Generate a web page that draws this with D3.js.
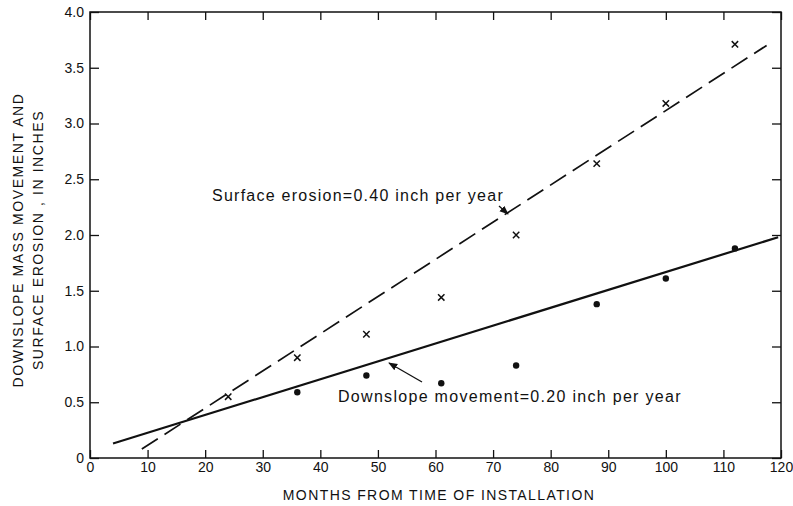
<!DOCTYPE html>
<html>
<head>
<meta charset="utf-8">
<script src="https://cdn.jsdelivr.net/npm/d3@7"></script>
<style>
  body { margin: 0; background: #fff; }
  svg { display: block; font-family: "Liberation Sans", Arial, sans-serif; }
</style>
</head>
<body>
<svg id="drawing_region"></svg>
<script>
// values
const xTicks = [0, 10, 20, 30, 40, 50, 60, 70, 80, 90, 100, 110, 120];
const yTicks = [0, 0.5, 1.0, 1.5, 2.0, 2.5, 3.0, 3.5, 4.0];
const yTickLabels = ['0', '0.5', '1.0', '1.5', '2.0', '2.5', '3.0', '3.5', '4.0'];

const erosionMonths = [24, 36, 48, 61, 74, 88, 100, 112];
const erosionValues = [0.55, 0.90, 1.11, 1.44, 2.00, 2.64, 3.18, 3.71];

const downslopeMonths = [36, 48, 61, 74, 88, 100, 112];
const downslopeValues = [0.59, 0.74, 0.67, 0.83, 1.38, 1.61, 1.88];

// fitted lines as drawn (start and end)
const erosionLineMonths = [9, 117.5];
const erosionLineValues = [0.08, 3.70];
const downslopeLineMonths = [4, 119.5];
const downslopeLineValues = [0.13, 1.98];

const width = 793, height = 506;
const margin = { top: 12, right: 12, bottom: 48, left: 90 };

const svg = d3.select('#drawing_region')
    .attr('width', width)
    .attr('height', height);

svg.append('rect')
    .attr('width', width).attr('height', height)
    .attr('fill', '#fff');

const x = d3.scaleLinear().domain([0, 120]).range([margin.left, width - margin.right]);
const y = d3.scaleLinear().domain([0, 4]).range([height - margin.bottom, margin.top]);

// frame
svg.append('rect')
    .attr('x', x(0)).attr('y', y(4))
    .attr('width', x(120) - x(0)).attr('height', y(0) - y(4))
    .attr('fill', 'none').attr('stroke', '#111').attr('stroke-width', 1.5);

// axes with inward ticks
svg.append('g')
    .attr('transform', `translate(0,${y(0)})`)
    .call(d3.axisBottom(x).tickValues(xTicks).tickSize(-8).tickPadding(4).tickFormat(d3.format('d')));

svg.append('g')
    .attr('transform', `translate(0,${y(4)})`)
    .call(d3.axisTop(x).tickValues(xTicks).tickSize(-8).tickFormat(''));

svg.append('g')
    .attr('transform', `translate(${x(0)},0)`)
    .call(d3.axisLeft(y).tickValues(yTicks).tickSize(-9).tickPadding(6)
        .tickFormat((d, i) => yTickLabels[i]));

svg.append('g')
    .attr('transform', `translate(${x(120)},0)`)
    .call(d3.axisRight(y).tickValues(yTicks).tickSize(-9).tickFormat(''));

svg.selectAll('.domain').remove();
svg.selectAll('.tick line').attr('stroke', '#111').attr('stroke-width', 1.3);
svg.selectAll('.tick text')
    .attr('fill', '#111')
    .style('font-size', '14px')
    .style('font-family', '"Liberation Sans", Arial, sans-serif');

// axis titles
svg.append('text')
    .attr('x', 439).attr('y', 500)
    .attr('text-anchor', 'middle')
    .style('font-size', '14px')
    .style('letter-spacing', '1.4px')
    .attr('fill', '#111')
    .text('MONTHS FROM TIME OF INSTALLATION');

const yTitle = svg.append('text')
    .attr('transform', 'translate(0,240) rotate(-90)')
    .attr('text-anchor', 'middle')
    .style('font-size', '14px')
    .style('letter-spacing', '1.6px')
    .attr('fill', '#111');
yTitle.append('tspan').attr('x', 0).attr('y', 23).text('DOWNSLOPE MASS MOVEMENT AND');
yTitle.append('tspan').attr('x', 0).attr('y', 43).text('SURFACE EROSION , IN INCHES');

// fitted lines
const line = d3.line().x(d => x(d[0])).y(d => y(d[1]));

svg.append('path')
    .datum(d3.zip(erosionLineMonths, erosionLineValues))
    .attr('d', line)
    .attr('fill', 'none')
    .attr('stroke', '#111')
    .attr('stroke-width', 1.7)
    .attr('stroke-dasharray', '19,8');

svg.append('path')
    .datum(d3.zip(downslopeLineMonths, downslopeLineValues))
    .attr('d', line)
    .attr('fill', 'none')
    .attr('stroke', '#111')
    .attr('stroke-width', 2.2);

// x markers
const s = 3.2;
svg.selectAll('.xmark')
    .data(d3.zip(erosionMonths, erosionValues))
    .enter()
    .append('path')
    .attr('class', 'xmark')
    .attr('d', d => {
        const cx = x(d[0]), cy = y(d[1]);
        return `M${cx - s},${cy - s}L${cx + s},${cy + s}M${cx - s},${cy + s}L${cx + s},${cy - s}`;
    })
    .attr('stroke', '#111')
    .attr('stroke-width', 1.5);

// dots
svg.selectAll('.dot')
    .data(d3.zip(downslopeMonths, downslopeValues))
    .enter()
    .append('circle')
    .attr('class', 'dot')
    .attr('cx', d => x(d[0]))
    .attr('cy', d => y(d[1]))
    .attr('r', 3.2)
    .attr('fill', '#111');

// annotations
svg.append('defs').append('marker')
    .attr('id', 'arrow')
    .attr('viewBox', '0 0 10 10')
    .attr('refX', 9).attr('refY', 5)
    .attr('markerWidth', 7).attr('markerHeight', 7)
    .attr('orient', 'auto')
    .append('path')
    .attr('d', 'M0,1L10,5L0,9Z')
    .attr('fill', '#111');

svg.append('text')
    .attr('x', 212).attr('y', 201)
    .style('font-size', '16px')
    .style('letter-spacing', '1.25px')
    .attr('fill', '#111')
    .text('Surface erosion=0.40 inch per year');

svg.append('line')
    .attr('x1', 499).attr('y1', 206)
    .attr('x2', 508).attr('y2', 214)
    .attr('stroke', '#111').attr('stroke-width', 1.3)
    .attr('marker-end', 'url(#arrow)');

svg.append('text')
    .attr('x', 338).attr('y', 402)
    .style('font-size', '16px')
    .style('letter-spacing', '1.3px')
    .attr('fill', '#111')
    .text('Downslope movement=0.20 inch per year');

svg.append('line')
    .attr('x1', 422).attr('y1', 382)
    .attr('x2', 389).attr('y2', 363)
    .attr('stroke', '#111').attr('stroke-width', 1.3)
    .attr('marker-end', 'url(#arrow)');
</script>
</body>
</html>
